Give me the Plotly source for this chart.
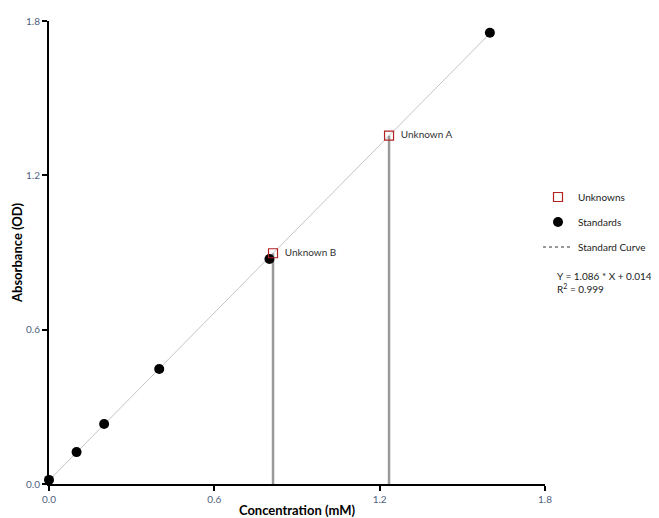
import plotly.graph_objects as go

std_x = [0.0, 0.1, 0.2, 0.4, 0.8, 1.6]
std_y = [0.016, 0.124, 0.233, 0.447, 0.875, 1.754]
unk_names = ["Unknown B", "Unknown A"]
unk_x = [0.813, 1.234]
unk_y = [0.897, 1.354]
slope, intercept = 1.086, 0.014
curve_x = [0.0, 1.6]
curve_y = [slope * v + intercept for v in curve_x]
ticks = [0.0, 0.6, 1.2, 1.8]
tick_text = ["0.0", "0.6", "1.2", "1.8"]

FONT = "Lato, Open Sans, sans-serif"
TICKC = "#4f5f80"

# page body has an 8px margin, so the figure is sized to fit the 659x518 window
W, H = 651, 510
ML, MR, MT, MB = 41, 114, 13, 34
PH = H - MT - MB  # plot height in px
PW = W - ML - MR


def py(abs_y):
    return (484 - abs_y) / PH


def px(abs_x):
    return (abs_x - 49) / PW


fig = go.Figure()
# standard curve
fig.add_trace(go.Scatter(x=curve_x, y=curve_y, mode="lines",
                         line=dict(color="#c4c4c4", width=1), showlegend=False, hoverinfo="skip"))
# drop lines
for xu, yu in zip(unk_x, unk_y):
    fig.add_trace(go.Scatter(x=[xu, xu], y=[0, yu], mode="lines",
                             line=dict(color="#9a9a9a", width=2.5), showlegend=False, hoverinfo="skip"))
# standards
fig.add_trace(go.Scatter(x=std_x, y=std_y, mode="markers", name="Standards",
                         marker=dict(color="black", size=10), legend="legend2", cliponaxis=False))
# unknowns
fig.add_trace(go.Scatter(x=unk_x, y=unk_y, mode="markers+text", name="Unknowns",
                         text=["  " + n for n in unk_names], textposition="middle right",
                         textfont=dict(family=FONT, size=10, color="#333333"),
                         marker=dict(symbol="square-open", color="#b22222", size=9, line=dict(width=1.2)),
                         legend="legend"))
# legend-only dashed entry
fig.add_trace(go.Scatter(x=[None], y=[None], mode="lines", name="Standard Curve",
                         line=dict(color="#333333", width=1, dash="dot"), legend="legend3"))

leg_common = dict(font=dict(family=FONT, size=10, color="#222222"), bgcolor="rgba(0,0,0,0)",
                  xanchor="left", yanchor="middle", itemwidth=30)
fig.update_layout(
    width=W, height=H,
    margin=dict(l=ML, r=MR, t=MT, b=MB, autoexpand=False),
    plot_bgcolor="white", paper_bgcolor="white",
    font=dict(family=FONT),
    legend=dict(x=px(538), y=py(197), **leg_common),
    legend2=dict(x=px(538), y=py(222), **leg_common),
    legend3=dict(x=px(538), y=py(247), **leg_common),
    xaxis=dict(range=[0, 1.8], tickvals=ticks, ticktext=tick_text, showgrid=False, zeroline=False,
               automargin=False,
               showline=True, linecolor="black", linewidth=2, ticks="outside", ticklen=5,
               tickwidth=2, tickcolor="black", tickfont=dict(family=FONT, size=10, color=TICKC),
               title=dict(text="<b>Concentration (mM)</b>", font=dict(family=FONT, size=13, color="black"),
                          standoff=2)),
    yaxis=dict(range=[0, 1.8], tickvals=ticks, ticktext=tick_text, showgrid=False, zeroline=False,
               automargin=False,
               showline=True, linecolor="black", linewidth=2, ticks="outside", ticklen=5,
               tickwidth=2, tickcolor="black", tickfont=dict(family=FONT, size=10, color=TICKC),
               title=dict(text="<b>Absorbance (OD)</b>", font=dict(family=FONT, size=13, color="black"),
                          standoff=0)),
)
fig.add_annotation(xref="paper", yref="paper", x=px(555), y=py(282), xanchor="left", yanchor="middle",
                   align="left", showarrow=False,
                   text=f"Y = {slope} * X + {intercept}<br>R<sup>2</sup> = 0.999",
                   font=dict(family=FONT, size=10, color="#222222"))
fig.write_html("out.html")
